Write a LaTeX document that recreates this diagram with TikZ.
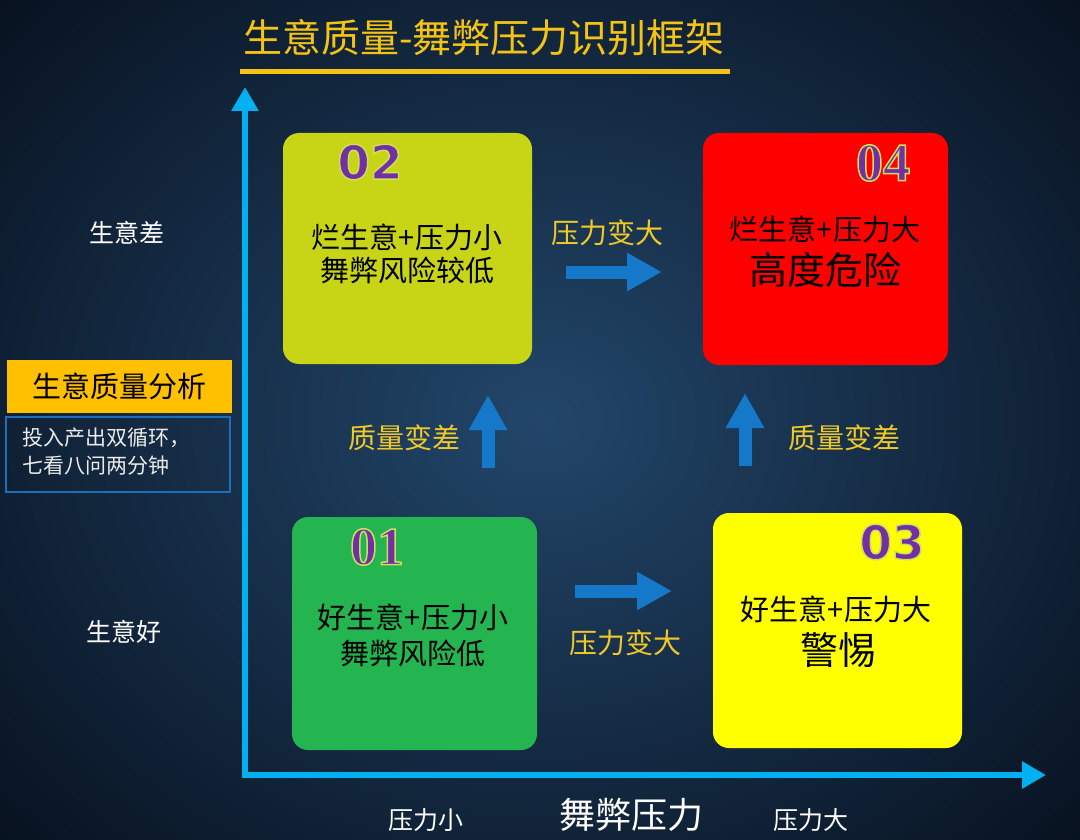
\documentclass[tikz,border=0pt]{standalone}
\usepackage{fontspec}
\newfontfamily\cjk{Noto Sans CJK SC}
\newfontfamily\numserif{Liberation Serif}
\newfontfamily\numsans{DejaVu Sans}
\usetikzlibrary{arrows.meta}
\definecolor{bgin}{RGB}{34,70,106}
\definecolor{bgout}{RGB}{8,18,32}
\definecolor{titley}{RGB}{245,195,20}
\definecolor{axisc}{RGB}{0,176,240}
\definecolor{arrowb}{RGB}{22,120,200}
\definecolor{boxtwo}{RGB}{200,212,22}
\definecolor{boxfour}{RGB}{255,0,0}
\definecolor{boxone}{RGB}{36,180,80}
\definecolor{boxthree}{RGB}{255,255,0}
\definecolor{numpur}{RGB}{115,48,165}
\definecolor{goldbox}{RGB}{255,192,0}
\definecolor{lblue}{RGB}{30,110,190}
\definecolor{labely}{RGB}{240,200,40}
\newcommand\fs[1]{\fontsize{#1}{#1}\selectfont}
% purple digits with a light yellow-green outline (text render mode 2)
\newcommand\glowtext[1]{{\color{numpur}%
  \special{pdf:literal direct 2 Tr 1.5 w 0.80 0.88 0.36 RG}%
  #1%
  \special{pdf:literal direct 0 Tr}}}
\tikzset{
  quad/.style={rounded corners=16pt, inner sep=0pt, draw=none},
  boxtxt/.style={font=\cjk\fs{29}, text=black, inner sep=0pt},
  bigtxt/.style={font=\cjk\fs{38}, text=black, inner sep=0pt},
  flowlbl/.style={font=\cjk\fs{28}, text=labely, inner sep=0pt},
  sidelbl/.style={font=\cjk\fs{25}, text=white, inner sep=0pt},
  numlbl/.style={inner sep=0pt},
  blockarrow/.style={draw=arrowb, line width=13pt, -{Triangle[length=35pt,width=36pt]}},
  axis/.style={draw=axisc, line width=6pt, line join=miter,
     {Triangle[length=24pt,width=26pt]}-{Triangle[length=24pt,width=26pt]}},
}
\begin{document}
\begin{tikzpicture}[x=1pt,y=-1pt]
\useasboundingbox (0,0) rectangle (1080,840);
\shade[inner color=bgin, outer color=bgout] (-200,-200) rectangle (1280,1040);
% title
\node[font=\cjk\fs{39}, text=titley, inner sep=0pt] (title) at (484,38) {生意质量-舞弊压力识别框架};
\coordinate (ulA) at (240,72);
\coordinate (ulB) at (730,72);
\draw[titley, line width=5pt] (ulA) -- (ulB);
% axes
\coordinate (ytop) at (245,87);
\coordinate (O) at (245,775);
\coordinate (xend) at (1046,775);
\draw[axis] (ytop) -- (O) -- (xend);
% quadrant boxes
\node[quad, fill=boxtwo, minimum width=249pt, minimum height=231pt] (q2) at (407.5,248.5) {};
\node[quad, fill=boxfour, minimum width=245pt, minimum height=232pt] (q4) at (825.5,249) {};
\node[quad, fill=boxone, minimum width=245pt, minimum height=233pt] (q1) at (414.5,633.5) {};
\node[quad, fill=boxthree, minimum width=249pt, minimum height=235pt] (q3) at (837.5,630.5) {};
% numbers
\node[numlbl] (n2) at (370,162) {\numsans\bfseries\fs{47}\glowtext{02}};
\node[numlbl] (n4) at (883,163) {\numserif\bfseries\fs{54}\glowtext{04}};
\node[numlbl] (n1) at (377,547) {\numserif\bfseries\fs{54}\glowtext{01}};
\node[numlbl] (n3) at (892,542) {\numsans\bfseries\fs{47}\glowtext{03}};
% box texts
\node[boxtxt] (t2a) at (407,237) {烂生意+压力小};
\node[boxtxt] (t2b) at (407,270) {舞弊风险较低};
\node[boxtxt] (t4a) at (825,229) {烂生意+压力大};
\node[bigtxt] (t4b) at (825,270) {高度危险};
\node[boxtxt] (t1a) at (413,617) {好生意+压力小};
\node[boxtxt] (t1b) at (413,653) {舞弊风险低};
\node[boxtxt] (t3a) at (836,609) {好生意+压力大};
\node[bigtxt] (t3b) at (838,650) {警惕};
% block arrows
\coordinate (a1s) at (566,272); \coordinate (a1e) at (662,272);
\coordinate (a2s) at (575,591); \coordinate (a2e) at (672,591);
\coordinate (a3s) at (488,468); \coordinate (a3e) at (488,395);
\coordinate (a4s) at (745,466); \coordinate (a4e) at (745,393);
\draw[blockarrow] (a1s) -- (a1e);
\draw[blockarrow] (a2s) -- (a2e);
\draw[blockarrow] (a3s) -- (a3e);
\draw[blockarrow] (a4s) -- (a4e);
% flow labels
\node[flowlbl] (f1) at (607,233) {压力变大};
\node[flowlbl] (f2) at (625,643) {压力变大};
\node[flowlbl] (f3) at (404,438) {质量变差};
\node[flowlbl] (f4) at (844,438) {质量变差};
% side labels
\node[sidelbl] (s1) at (127,233) {生意差};
\node[sidelbl] (s2) at (124,632) {生意好};
% left panel
\node[fill=goldbox, minimum width=225pt, minimum height=53pt, inner sep=0pt,
      font=\cjk\fs{29}, text=black] (gb) at (119.5,386.5) {生意质量分析};
\node[draw=lblue, line width=2pt, minimum width=224pt, minimum height=75pt, inner sep=0pt] (bb) at (118,454.5) {};
\node[font=\cjk\fs{21}, text=white!92!black, align=left, anchor=west, inner sep=0pt] (bt) at (22,452)
  {投入产出双循环，\\[7pt]七看八问两分钟};
% bottom labels
\node[sidelbl] (b1) at (426,820) {压力小};
\node[font=\cjk\fs{36}, text=white, inner sep=0pt] (b2) at (631,815) {舞弊压力};
\node[sidelbl] (b3) at (811,820) {压力大};
\end{tikzpicture}
\end{document}
